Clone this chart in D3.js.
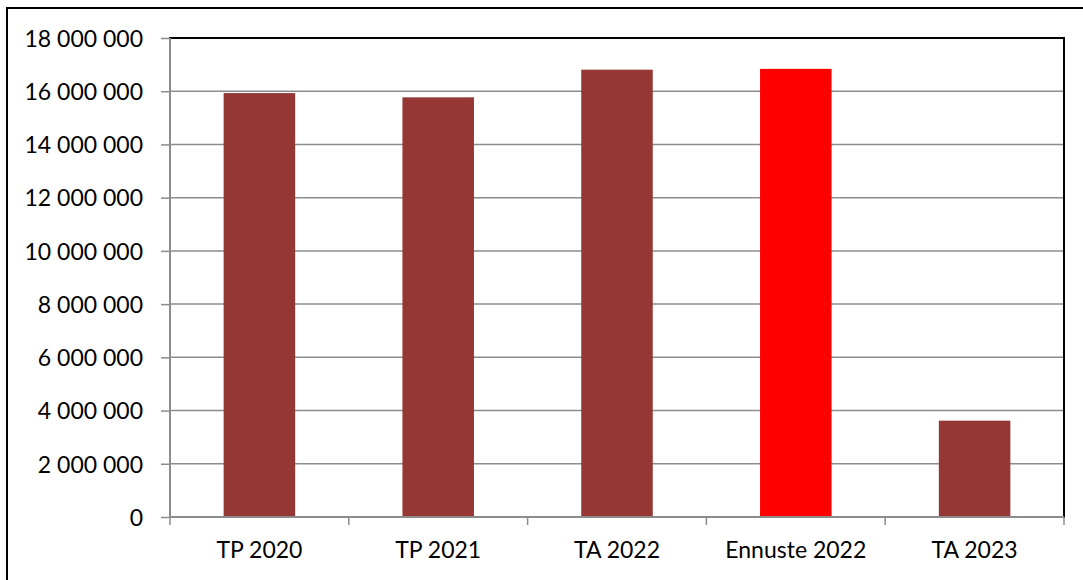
<!DOCTYPE html>
<html>
<head>
<meta charset="utf-8">
<script src="https://cdn.jsdelivr.net/npm/d3@7"></script>
<style>
  html, body { margin: 0; padding: 0; background: #fff; }
  svg { display: block; }
  .axis text { font-family: Lato, "Open Sans", sans-serif; font-size: 23px; fill: #000; }
</style>
</head>
<body>
<div id="chart"></div>
<script>
const categories = ["TP 2020", "TP 2021", "TA 2022", "Ennuste 2022", "TA 2023"];
const values = [15930000, 15770000, 16810000, 16840000, 3620000];
const barColors = ["#953735", "#953735", "#953735", "#ff0000", "#953735"];
const yTicks = [0, 2000000, 4000000, 6000000, 8000000, 10000000, 12000000, 14000000, 16000000, 18000000];

const width = 1083;
const height = 580;
const margin = { top: 38, right: 19, bottom: 63, left: 170 };
const innerWidth = width - margin.left - margin.right;
const innerHeight = height - margin.top - margin.bottom;

const svg = d3.select("#chart")
  .append("svg")
  .attr("width", width)
  .attr("height", height);

// outer chart border (right and bottom edges fall outside the picture)
svg.append("path")
  .attr("d", `M7,${height}V8H${width}`)
  .attr("fill", "none")
  .attr("stroke", "#000")
  .attr("stroke-width", 2);

const chart = svg.append("g")
  .attr("transform", `translate(${margin.left}, ${margin.top})`);

const x = d3.scaleBand()
  .domain(categories)
  .range([0, innerWidth])
  .paddingInner(0.6)
  .paddingOuter(0.3);

const xBand = d3.scaleBand()
  .domain(categories)
  .range([0, innerWidth]);

const y = d3.scaleLinear()
  .domain([0, 18000000])
  .range([innerHeight, 0]);

const fmt = v => d3.format(",")(v).replace(/,/g, " ");

// gridlines
chart.append("g")
  .selectAll("line")
  .data(yTicks.filter(d => d > 0))
  .enter()
  .append("line")
  .attr("x1", 0)
  .attr("x2", innerWidth)
  .attr("y1", d => y(d))
  .attr("y2", d => y(d))
  .attr("stroke", "#8c8c8c")
  .attr("stroke-width", 1.5);

// plot area border
chart.append("rect")
  .attr("x", 0)
  .attr("y", 0)
  .attr("width", innerWidth)
  .attr("height", innerHeight)
  .attr("fill", "none")
  .attr("stroke", "#000")
  .attr("stroke-width", 2);

// bars
chart.selectAll(".bar")
  .data(categories)
  .enter()
  .append("rect")
  .attr("class", "bar")
  .attr("x", d => x(d))
  .attr("width", x.bandwidth())
  .attr("y", (d, i) => y(values[i]))
  .attr("height", (d, i) => innerHeight - y(values[i]))
  .attr("fill", (d, i) => barColors[i]);

// y axis
const yAxis = chart.append("g")
  .attr("class", "axis")
  .call(d3.axisLeft(y).tickValues(yTicks).tickFormat(fmt).tickSize(9).tickPadding(18));
yAxis.selectAll("line").attr("stroke", "#8c8c8c").attr("stroke-width", 1.5);
yAxis.select(".domain").attr("stroke", "#8c8c8c").attr("stroke-width", 2).attr("d", `M0,0V${innerHeight}`);
yAxis.selectAll("text").attr("dy", "0.36em");

// x axis
const xAxis = chart.append("g")
  .attr("class", "axis")
  .attr("transform", `translate(0, ${innerHeight})`)
  .call(d3.axisBottom(xBand).tickSize(0).tickPadding(25));
xAxis.select(".domain").attr("stroke", "#8c8c8c").attr("stroke-width", 2).attr("d", `M0,0H${innerWidth}`);

const boundaries = categories.map(d => xBand(d)).concat([innerWidth]);
xAxis.selectAll(".cat-tick")
  .data(boundaries)
  .enter()
  .append("line")
  .attr("class", "cat-tick")
  .attr("x1", d => d)
  .attr("x2", d => d)
  .attr("y1", 0)
  .attr("y2", 8)
  .attr("stroke", "#8c8c8c")
  .attr("stroke-width", 1.5);
</script>
</body>
</html>
